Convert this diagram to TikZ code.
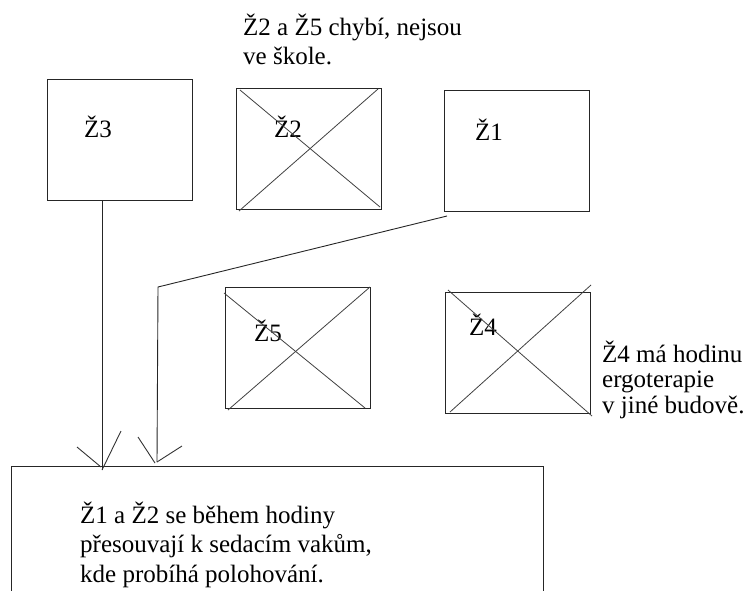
\documentclass[tikz,border=0pt]{standalone}
\usepackage{fontspec}
\setmainfont{Liberation Serif}
\tikzset{
  px/.style={x=1pt,y=-1pt},
  stroke/.style={draw=black!85,line width=0.9pt},
  kidbox/.style={stroke,rectangle,inner sep=0pt,minimum width=145pt,minimum height=121pt},
  lbl/.style={inner sep=0pt,anchor=base west,font=\fontsize{25}{29}\selectfont},
  note/.style={inner sep=0pt,anchor=base west,align=left},
  cross/.style={draw=black!75,line width=0.8pt},
  barb/.style={draw=black!80,line width=0.9pt}
}
\begin{document}
\begin{tikzpicture}[px]
\useasboundingbox (0,0) rectangle (749,590);
% boxes
\node[kidbox] (z3) at (119.5,139.5) {};
\node[kidbox] (z2) at (308.5,148.5) {};
\node[kidbox] (z1) at (516.5,151) {};
\node[kidbox] (z5) at (298,347.5) {};
\node[kidbox] (z4) at (517.5,352.5) {};
% labels
\node[lbl] (t3) at (84,137) {Ž3};
\node[lbl] (t2) at (274,137) {Ž2};
\node[lbl] (t1) at (475,140) {Ž1};
\node[lbl] (t5) at (254,341) {Ž5};
\node[lbl] (t4) at (469,335) {Ž4};
% crosses
\draw[cross] (240,90) -- (380,207);
\draw[cross] (239,211) -- (378,89);
\draw[cross] (224,293) -- (365,408);
\draw[cross] (228,410) -- (370,287);
\draw[cross] (448,290) -- (592,416);
\draw[cross] (450,412) -- (591,285);
% notes (anchor = baseline of last line)
\node[note,font=\fontsize{25}{29}\selectfont] (n1) at (243,64) {Ž2 a Ž5 chybí, nejsou\\ve škole.};
\node[note,font=\fontsize{25}{25.5}\selectfont] (n2) at (602,413) {Ž4 má hodinu\\ergoterapie\\v jiné budově.};
% bottom box
\coordinate (bl) at (11,591);
\coordinate (tl) at (11,466);
\coordinate (tr) at (543,466);
\coordinate (br) at (543,591);
\draw[stroke] (bl) -- (tl) -- (tr) -- (br);
\node[note,font=\fontsize{25}{29.5}\selectfont] (n3) at (80,582) {Ž1 a Ž2 se během hodiny\\přesouvají k sedacím vakům,\\kde probíhá polohování.};
% connector 1: Z3 -> bottom
\coordinate (a1) at (102,470);
\draw[stroke] (z3.south -| a1) -- (a1);
\coordinate (a1l) at (77,447);
\coordinate (a1r) at (121,431);
\draw[barb] (a1l) -- (101,467);
\draw[barb] (a1r) -- (a1);
% connector 2: Z1 -> bottom
\coordinate (c0) at (447,216);
\coordinate (c1) at (158,287);
\coordinate (a2) at (157,462);
\draw[stroke] (c0) -- (c1) -- (a2);
\coordinate (a2l) at (138,437);
\coordinate (a2r) at (182,446);
\draw[barb] (a2l) -- (155,463);
\draw[barb] (a2r) -- (a2);
\end{tikzpicture}
\end{document}
